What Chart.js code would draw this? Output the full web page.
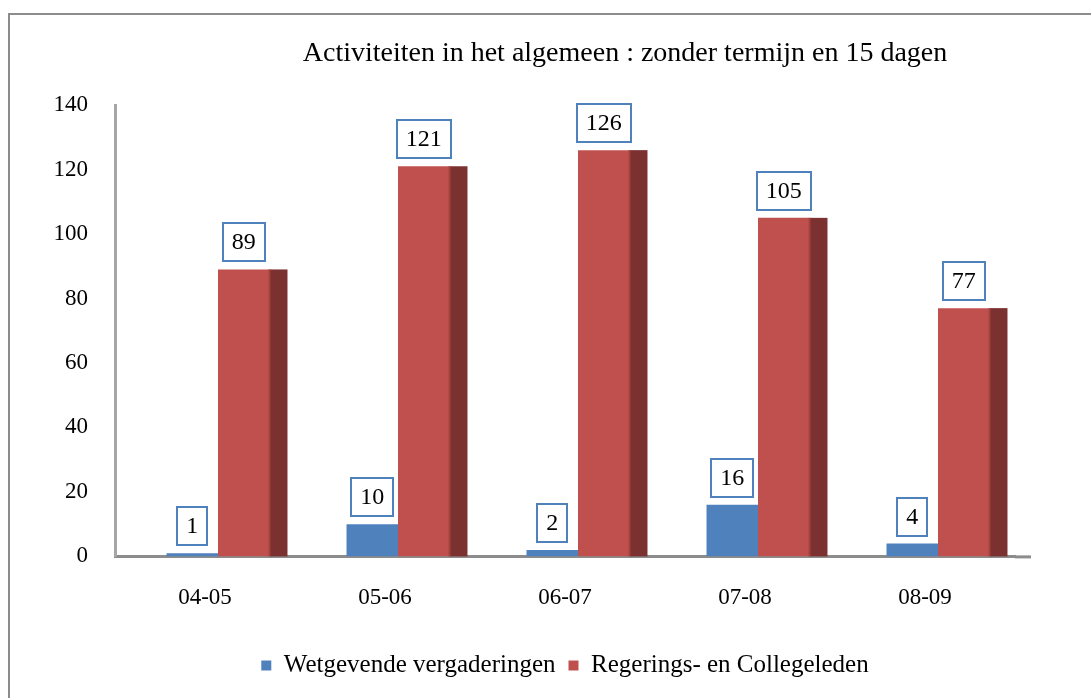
<!DOCTYPE html>
<html lang="nl">
<head>
  <meta charset="UTF-8">
  <title>Activiteiten in het algemeen</title>
  <script src="https://cdn.jsdelivr.net/npm/chart.js"></script>
  <style>
    body { margin: 0; background: #fff; overflow: hidden; }
    .frame { position: absolute; left: 8px; top: 13px; width: 1200px; height: 760px; border: 2px solid #8c8c8c; }
    .chart { display: block; }
  </style>
</head>
<body>
  <div class="frame">
    <canvas class="chart" width="1100" height="675"></canvas>
  </div>

<script>
  // gegevens
  const titel = 'Activiteiten in het algemeen : zonder termijn en 15 dagen';
  const jaren = ['04-05', '05-06', '06-07', '07-08', '08-09'];
  const wetgevend = [1, 10, 2, 16, 4];
  const regering = [89, 121, 126, 105, 77];
  const yMax = 140;
  const yStap = 20;

  const lettertype = "'Liberation Serif', 'Times New Roman', serif";
  const shift = 13;

  // zijvlak + labels
  const barPlugin = {
    id: 'barPlugin',
    beforeDatasetsDraw(chart) {
      chart.ctx.save();
      chart.ctx.translate(shift, 0);
    },
    afterDatasetsDraw(chart) {
      const ctx = chart.ctx;
      // donker zijvlak van de rode balken
      chart.getDatasetMeta(1).data.forEach(el => {
        const x = el.x + el.width / 2;
        ctx.fillStyle = '#7b3130';
        ctx.fillRect(x, el.y, 18, el.base - el.y);
        ctx.fillStyle = '#a5433f';
        ctx.fillRect(x - 1, el.y, 2, el.base - el.y);
      });
      // waardelabels in kaders
      ctx.font = '24px ' + lettertype;
      ctx.textAlign = 'center';
      ctx.textBaseline = 'middle';
      chart.data.datasets.forEach((ds, i) => {
        chart.getDatasetMeta(i).data.forEach((el, j) => {
          const txt = String(ds.data[j]);
          const w = Math.round(ctx.measureText(txt).width + 18);
          const h = 38;
          const bx = Math.round(el.x - w / 2);
          const by = Math.round(el.y - 8 - h);
          ctx.fillStyle = '#fff';
          ctx.fillRect(bx, by, w, h);
          ctx.strokeStyle = '#4f81bd';
          ctx.lineWidth = 2;
          ctx.strokeRect(bx, by, w, h);
          ctx.fillStyle = '#000';
          ctx.fillText(txt, el.x, by + h / 2 + 1);
        });
      });
      ctx.restore();
    },
    afterDraw(chart) {
      const ctx = chart.ctx;
      const a = chart.chartArea;
      ctx.save();
      // verlengde vloerlijn
      ctx.fillStyle = '#8c8c8c';
      ctx.fillRect(a.right, a.bottom - 1, 16, 3);
      ctx.font = '28px ' + lettertype;
      ctx.fillStyle = '#000';
      ctx.textAlign = 'center';
      ctx.textBaseline = 'middle';
      ctx.fillText(titel, (a.left + a.right) / 2 + 60, 39);
      ctx.restore();
    }
  };

  const ctx = document.querySelector('.chart').getContext('2d');
  new Chart(ctx, {
    type: 'bar',
    data: {
      labels: jaren,
      datasets: [
        { label: 'Wetgevende vergaderingen', data: wetgevend, backgroundColor: '#4f81bd' },
        { label: 'Regerings- en Collegeleden', data: regering, backgroundColor: '#c0504d' }
      ]
    },
    options: {
      responsive: false,
      animation: false,
      categoryPercentage: 0.572,
      barPercentage: 1,
      layout: { padding: { top: 90, right: 95, left: 0, bottom: 2 } },
      plugins: {
        legend: {
          position: 'bottom',
          fullSize: false,
          labels: {
            color: '#000',
            boxWidth: 10,
            boxHeight: 10,
            padding: 13,
            font: { family: lettertype, size: 25 }
          }
        },
        title: { display: false },
        tooltip: { enabled: false }
      },
      scales: {
        x: {
          grid: { display: false, drawTicks: false },
          border: { color: '#8c8c8c', width: 3 },
          ticks: { color: '#000', padding: 28, font: { family: lettertype, size: 23 } }
        },
        y: {
          min: 0,
          max: yMax,
          afterFit(scale) { scale.width = 105; },
          grid: { display: false, drawTicks: false },
          border: { color: '#a6a6a6', width: 3 },
          ticks: { stepSize: yStap, color: '#000', padding: 27, font: { family: lettertype, size: 23 } }
        }
      }
    },
    plugins: [barPlugin]
  });
</script>
</body>
</html>
